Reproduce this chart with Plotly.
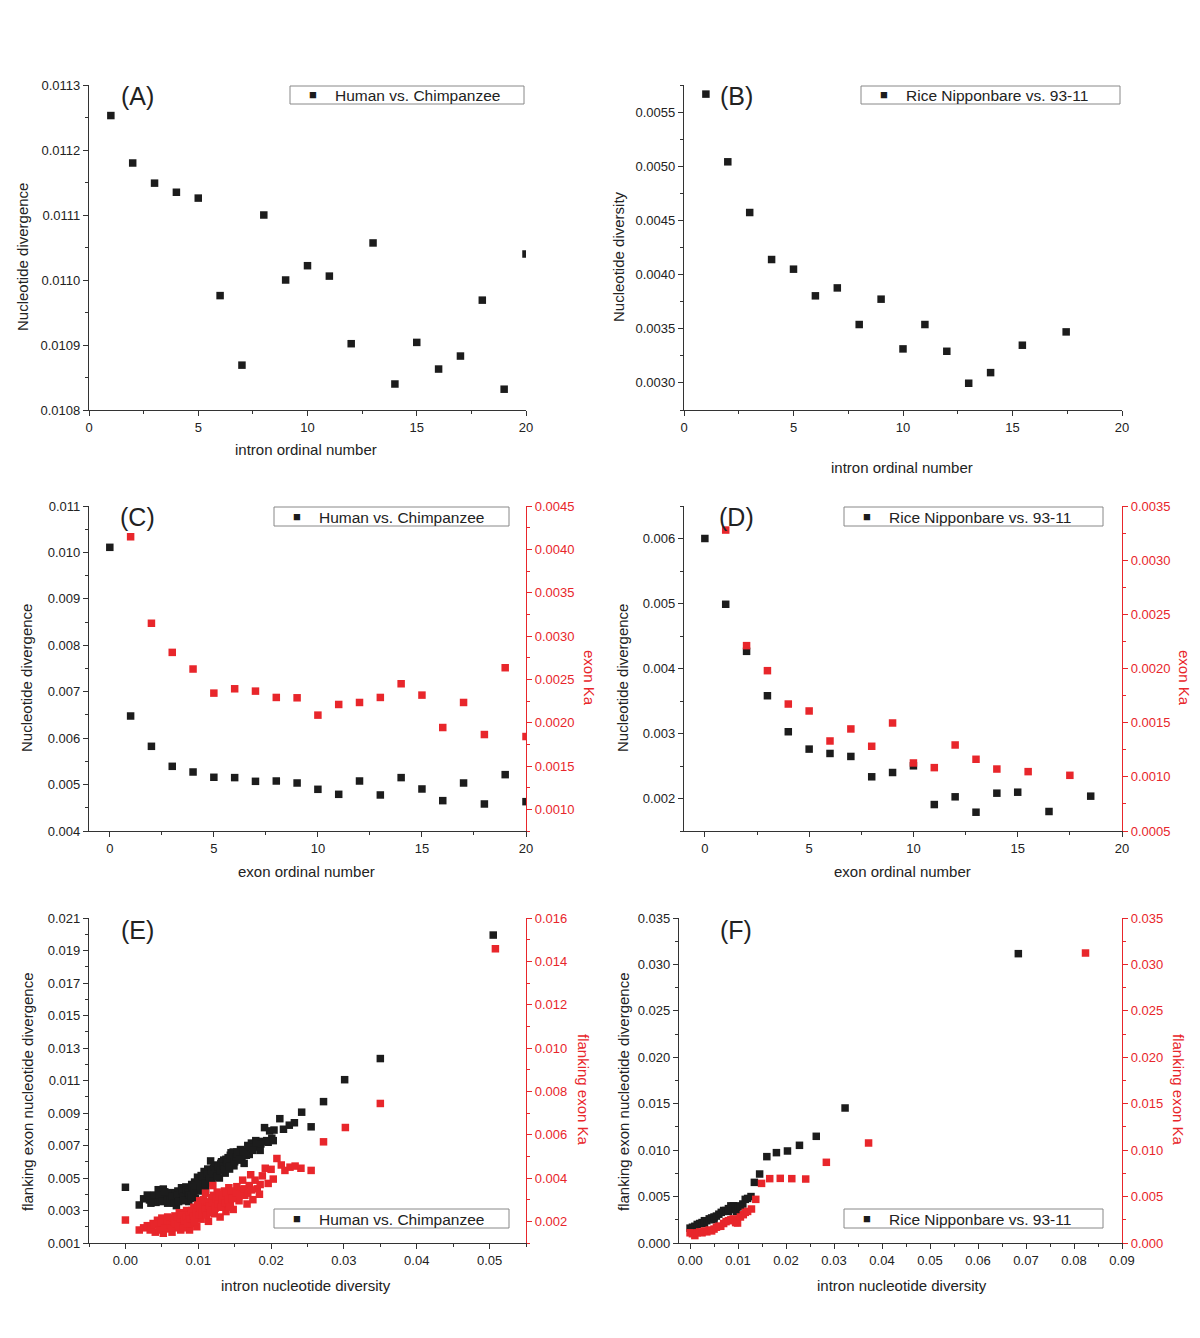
import plotly.graph_objects as go

# page is rendered with an 8px body margin, so the figure is 16px smaller
OFF = 8
W, H = 1200 - 2 * OFF, 1338 - 2 * OFF
FONT = "Liberation Sans, Arial, sans-serif"
BLACK = "#1c1c1c"
RED = "#e8262b"
AX = "#333333"

# ---------------- data ----------------
# (A) Human vs Chimpanzee, intron divergence
a_x = list(range(1, 21))
a_y = [0.011253, 0.011180, 0.011149, 0.011135, 0.011126, 0.010976, 0.010869, 0.011100,
       0.011000, 0.011022, 0.011006, 0.010902, 0.011057, 0.010840, 0.010904, 0.010863,
       0.010883, 0.010969, 0.010832, 0.011040]

# (B) Rice intron diversity
b_x = [1, 2, 3, 4, 5, 6, 7, 8, 9, 10, 11, 12, 13, 14, 15.45, 17.45]
b_y = [0.005666, 0.005041, 0.004573, 0.004139, 0.004050, 0.003804, 0.003877, 0.003539,
       0.003773, 0.003314, 0.003539, 0.003292, 0.002997, 0.003095, 0.003348, 0.003471]

# (C) Human vs Chimpanzee, exon divergence and exon Ka
c_x = list(range(0, 21))
c_div = [0.010110, 0.006477, 0.005824, 0.005393, 0.005271, 0.005157, 0.005150, 0.005070,
         0.005077, 0.005034, 0.004898, 0.004790, 0.005077, 0.004776, 0.005150, 0.004905,
         0.004654, 0.005034, 0.004582, 0.005214, 0.004632]
c_ka_x = list(range(1, 21))
c_ka = [0.004145, 0.003147, 0.002811, 0.002619, 0.002341, 0.002391, 0.002364, 0.002291,
        0.002287, 0.002087, 0.002210, 0.002233, 0.002291, 0.002449, 0.002318, 0.001944,
        0.002233, 0.001863, 0.002634, 0.001840]

# (D) Rice exon divergence and exon Ka
d_x = [0, 1, 2, 3, 4, 5, 6, 7, 8, 9, 10, 11, 12, 13, 14, 15, 16.5, 18.5]
d_div = [0.006000, 0.004988, 0.004264, 0.003581, 0.003027, 0.002760, 0.002693, 0.002647,
         0.002334, 0.002400, 0.002503, 0.001907, 0.002026, 0.001789, 0.002082, 0.002097,
         0.001800, 0.002036]
d_ka_x = [1, 2, 3, 4, 5, 6, 7, 8, 9, 10, 11, 12, 13, 14, 15.5, 17.5]
d_ka = [0.003278, 0.002211, 0.001980, 0.001672, 0.001608, 0.001331, 0.001442, 0.001282,
        0.001497, 0.001128, 0.001085, 0.001294, 0.001162, 0.001072, 0.001048, 0.001014]

# (E) Human vs Chimpanzee: intron diversity vs flanking exon divergence / Ka
e_div_x = [0.0000, 0.0019, 0.0025, 0.0030, 0.0033, 0.0038, 0.0042, 0.0045, 0.0048, 0.0052,
           0.0055, 0.0058, 0.0060, 0.0063, 0.0066, 0.0068, 0.0070, 0.0072, 0.0074, 0.0077,
           0.0079, 0.0081, 0.0083, 0.0085, 0.0087, 0.0089, 0.0091, 0.0093, 0.0095, 0.0096,
           0.0098, 0.0099, 0.0101, 0.0102, 0.0104, 0.0105, 0.0107, 0.0108, 0.0110, 0.0111,
           0.0113, 0.0114, 0.0116, 0.0117, 0.0119, 0.0121, 0.0123, 0.0125, 0.0127, 0.0129,
           0.0131, 0.0133, 0.0135, 0.0137, 0.0139, 0.0141, 0.0143, 0.0145, 0.0147, 0.0149,
           0.0151, 0.0153, 0.0155, 0.0158, 0.0160, 0.0163, 0.0165, 0.0168, 0.0170, 0.0173,
           0.0176, 0.0179, 0.0182, 0.0185, 0.0188, 0.0191, 0.0194, 0.0198, 0.0201, 0.0204,
           0.0212, 0.0217, 0.0225, 0.0232, 0.0242, 0.0255, 0.0272, 0.0301, 0.0350, 0.0505,
           0.0035, 0.0040, 0.0047, 0.0050, 0.0054, 0.0057, 0.0061, 0.0064, 0.0067, 0.0071,
           0.0073, 0.0076, 0.0078, 0.0080, 0.0082, 0.0084, 0.0086, 0.0088, 0.0090, 0.0092,
           0.0094, 0.0097, 0.0100, 0.0103, 0.0106, 0.0109, 0.0112, 0.0115, 0.0118, 0.0120,
           0.0122, 0.0124, 0.0126, 0.0128, 0.0130, 0.0132, 0.0134, 0.0136, 0.0138, 0.0140,
           0.0142, 0.0144, 0.0146, 0.0148, 0.0150, 0.0152, 0.0154, 0.0157, 0.0162, 0.0166,
           0.0171, 0.0175, 0.0180, 0.0186, 0.0196, 0.0203]
e_div_y = [0.00443, 0.00334, 0.00372, 0.00395, 0.00365, 0.00380, 0.00350, 0.00428, 0.00365, 0.00432,
           0.00385, 0.00345, 0.00395, 0.00410, 0.00375, 0.00405, 0.00330, 0.00420, 0.00385, 0.00440,
           0.00360, 0.00415, 0.00445, 0.00395, 0.00355, 0.00430, 0.00460, 0.00400, 0.00475, 0.00375,
           0.00440, 0.00505, 0.00420, 0.00470, 0.00515, 0.00450, 0.00490, 0.00540, 0.00430, 0.00500,
           0.00555, 0.00470, 0.00530, 0.00605, 0.00495, 0.00560, 0.00520, 0.00580, 0.00545, 0.00500,
           0.00590, 0.00560, 0.00610, 0.00530, 0.00580, 0.00625, 0.00555, 0.00655, 0.00600, 0.00575,
           0.00640, 0.00660, 0.00610, 0.00675, 0.00630, 0.00590, 0.00665, 0.00700, 0.00645, 0.00715,
           0.00690, 0.00730, 0.00700, 0.00670, 0.00725, 0.00810, 0.00730, 0.00790, 0.00745, 0.00795,
           0.00865, 0.00800, 0.00825, 0.00840, 0.00905, 0.00815, 0.00970, 0.01105, 0.01235, 0.01995,
           0.00345, 0.00395, 0.00395, 0.00355, 0.00415, 0.00365, 0.00360, 0.00385, 0.00345, 0.00395,
           0.00355, 0.00405, 0.00420, 0.00385, 0.00365, 0.00425, 0.00410, 0.00395, 0.00380, 0.00445,
           0.00420, 0.00455, 0.00480, 0.00440, 0.00510, 0.00465, 0.00525, 0.00500, 0.00545, 0.00525,
           0.00575, 0.00545, 0.00510, 0.00570, 0.00545, 0.00600, 0.00575, 0.00555, 0.00615, 0.00595,
           0.00570, 0.00640, 0.00620, 0.00660, 0.00600, 0.00630, 0.00650, 0.00615, 0.00660, 0.00640,
           0.00690, 0.00670, 0.00715, 0.00710, 0.00720, 0.00730]
e_ka_x = [0.0000, 0.0019, 0.0025, 0.0030, 0.0034, 0.0038, 0.0041, 0.0044, 0.0047, 0.0050,
          0.0052, 0.0055, 0.0058, 0.0060, 0.0062, 0.0064, 0.0066, 0.0068, 0.0070, 0.0072,
          0.0074, 0.0076, 0.0078, 0.0080, 0.0082, 0.0084, 0.0086, 0.0088, 0.0090, 0.0092,
          0.0094, 0.0096, 0.0098, 0.0100, 0.0102, 0.0104, 0.0106, 0.0108, 0.0110, 0.0112,
          0.0114, 0.0116, 0.0118, 0.0120, 0.0122, 0.0124, 0.0126, 0.0128, 0.0130, 0.0132,
          0.0134, 0.0136, 0.0138, 0.0140, 0.0142, 0.0144, 0.0146, 0.0148, 0.0150, 0.0153,
          0.0156, 0.0159, 0.0161, 0.0164, 0.0167, 0.0170, 0.0172, 0.0175, 0.0178, 0.0181,
          0.0184, 0.0188, 0.0192, 0.0196, 0.0200, 0.0203, 0.0208, 0.0214, 0.0219, 0.0226,
          0.0233, 0.0241, 0.0255, 0.0272, 0.0302, 0.0350, 0.0508,
          0.0036, 0.0040, 0.0046, 0.0049, 0.0054, 0.0057, 0.0061, 0.0063, 0.0065, 0.0067,
          0.0069, 0.0071, 0.0073, 0.0075, 0.0077, 0.0079, 0.0081, 0.0083, 0.0085, 0.0087,
          0.0089, 0.0091, 0.0093, 0.0095, 0.0097, 0.0099, 0.0101, 0.0103, 0.0105, 0.0107,
          0.0109, 0.0111, 0.0113, 0.0115, 0.0117, 0.0119, 0.0121, 0.0123, 0.0125, 0.0127,
          0.0129, 0.0131, 0.0133, 0.0135, 0.0137, 0.0139, 0.0141, 0.0143, 0.0145, 0.0147,
          0.0152, 0.0157, 0.0163, 0.0168, 0.0173, 0.0185]
e_ka_y = [0.00206, 0.00160, 0.00170, 0.00180, 0.00160, 0.00190, 0.00150, 0.00205, 0.00175, 0.00215,
          0.00145, 0.00190, 0.00220, 0.00165, 0.00200, 0.00150, 0.00185, 0.00225, 0.00170, 0.00205,
          0.00240, 0.00160, 0.00195, 0.00225, 0.00175, 0.00250, 0.00205, 0.00160, 0.00235, 0.00190,
          0.00265, 0.00215, 0.00175, 0.00250, 0.00295, 0.00210, 0.00270, 0.00235, 0.00330, 0.00280,
          0.00200, 0.00255, 0.00310, 0.00365, 0.00235, 0.00290, 0.00335, 0.00265, 0.00220, 0.00310,
          0.00275, 0.00340, 0.00245, 0.00300, 0.00355, 0.00280, 0.00325, 0.00255, 0.00310, 0.00360,
          0.00295, 0.00345, 0.00390, 0.00320, 0.00280, 0.00365, 0.00415, 0.00300, 0.00390, 0.00350,
          0.00325, 0.00410, 0.00445, 0.00375, 0.00440, 0.00395, 0.00490, 0.00460, 0.00435, 0.00450,
          0.00455, 0.00445, 0.00435, 0.00567, 0.00633, 0.00744, 0.01458,
          0.00175, 0.00185, 0.00160, 0.00195, 0.00170, 0.00205, 0.00185, 0.00170, 0.00215, 0.00200,
          0.00190, 0.00220, 0.00180, 0.00210, 0.00230, 0.00170, 0.00205, 0.00220, 0.00190, 0.00230,
          0.00210, 0.00250, 0.00225, 0.00200, 0.00240, 0.00275, 0.00230, 0.00260, 0.00240, 0.00300,
          0.00255, 0.00230, 0.00290, 0.00270, 0.00240, 0.00285, 0.00320, 0.00260, 0.00305, 0.00280,
          0.00325, 0.00265, 0.00300, 0.00320, 0.00285, 0.00330, 0.00300, 0.00265, 0.00340, 0.00305,
          0.00330, 0.00325, 0.00350, 0.00330, 0.00345, 0.00370]

# (F) Rice: intron diversity vs flanking exon divergence / Ka
f_div_x = [0.0000, 0.0005, 0.0010, 0.0015, 0.0020, 0.0025, 0.0030, 0.0030, 0.0035, 0.0040,
           0.0045, 0.0050, 0.0050, 0.0055, 0.0060, 0.0065, 0.0070, 0.0075, 0.0080, 0.0080,
           0.0085, 0.0090, 0.0095, 0.0097, 0.0100, 0.0105, 0.0110, 0.0115, 0.0120, 0.0127,
           0.0134, 0.0145, 0.0160, 0.0180, 0.0203, 0.0228, 0.0263, 0.0323, 0.0684]
f_div_y = [0.0016, 0.0017, 0.0018, 0.0020, 0.0021, 0.0022, 0.0024, 0.0021, 0.0024, 0.0026,
           0.0027, 0.0028, 0.0025, 0.0029, 0.0031, 0.0033, 0.0035, 0.0035, 0.0037, 0.0034,
           0.0040, 0.0040, 0.0036, 0.0034, 0.0040, 0.0039, 0.0042, 0.0047, 0.0048, 0.0050,
           0.00653, 0.00743, 0.0093, 0.00973, 0.00991, 0.01052, 0.01149, 0.01454, 0.03116]
f_ka_x = [0.0000, 0.0005, 0.0010, 0.0015, 0.0020, 0.0025, 0.0030, 0.0035, 0.0040, 0.0045,
          0.0050, 0.0055, 0.0060, 0.0064, 0.0070, 0.0075, 0.0080, 0.0085, 0.0090, 0.0095,
          0.0099, 0.0105, 0.0111, 0.0115, 0.0120, 0.0128, 0.0137, 0.0149, 0.0166, 0.0188,
          0.0212, 0.0241, 0.0284, 0.0372, 0.0824]
f_ka_y = [0.0011, 0.0010, 0.0008, 0.0011, 0.0012, 0.0011, 0.0013, 0.0012, 0.0014, 0.0013,
          0.0015, 0.0017, 0.0018, 0.0018, 0.0021, 0.0023, 0.0024, 0.0025, 0.0026, 0.0022,
          0.00215, 0.0028, 0.00305, 0.0033, 0.0034, 0.00366, 0.0047, 0.00642, 0.00693, 0.00696,
          0.00693, 0.00689, 0.00869, 0.01077, 0.03123]

HUMAN = "Human vs. Chimpanzee"
RICE = "Rice Nipponbare vs. 93-11"

# ---------------- layout helpers (page pixel -> paper) ----------------
def px_x(px):
    return (px - OFF) / W


def px_y(py):
    return 1 - (py - OFF) / H


COL_L = [px_x(89), px_x(526)]
COL_R = [px_x(684), px_x(1122)]
COL_RF = [px_x(679), px_x(1122)]
ROW1 = [px_y(410), px_y(85)]
ROW2 = [px_y(831), px_y(506)]
ROW3 = [px_y(1243), px_y(918)]

TICKSIZE = 13


def xax(domain, anchor, rng, dtick, minor, fmt=None, tick0=0):
    d = dict(domain=domain, anchor=anchor, range=rng, dtick=dtick, tick0=tick0,
             automargin=False,
             showline=True, linecolor=AX, linewidth=1.3, ticks="outside", ticklen=5,
             tickwidth=1.2, tickcolor=AX, showgrid=False, zeroline=False,
             tickfont=dict(family=FONT, size=TICKSIZE, color="#222"),
             minor=dict(dtick=minor, tick0=tick0, ticks="outside", ticklen=3,
                        tickwidth=1, tickcolor=AX, showgrid=False))
    if fmt:
        d["tickformat"] = fmt
    return d


def yax(domain, anchor, rng, dtick, minor, fmt, tick0=0, color=AX, tcolor="#222", side="left", overlaying=None):
    d = dict(domain=domain, anchor=anchor, range=rng, dtick=dtick, tick0=tick0, side=side,
             automargin=False,
             tickformat=fmt, showline=True, linecolor=color, linewidth=1.3, ticks="outside",
             ticklen=5, tickwidth=1.2, tickcolor=color, showgrid=False, zeroline=False,
             tickfont=dict(family=FONT, size=TICKSIZE, color=tcolor),
             minor=dict(dtick=minor, tick0=tick0, ticks="outside", ticklen=3,
                        tickwidth=1, tickcolor=color, showgrid=False))
    if overlaying:
        d["overlaying"] = overlaying
    return d


fig = go.Figure()

mk_black = dict(symbol="square", size=7.5, color=BLACK)
mk_red = dict(symbol="square", size=7.5, color=RED)

# A
fig.add_trace(go.Scatter(x=a_x, y=a_y, mode="markers", marker=mk_black, name=HUMAN,
                         xaxis="x", yaxis="y", showlegend=False))
# B
fig.add_trace(go.Scatter(x=b_x, y=b_y, mode="markers", marker=mk_black, name=RICE,
                         xaxis="x2", yaxis="y2", showlegend=False))
# C
fig.add_trace(go.Scatter(x=c_x, y=c_div, mode="markers", marker=mk_black, name=HUMAN,
                         xaxis="x3", yaxis="y3", showlegend=False))
fig.add_trace(go.Scatter(x=c_ka_x, y=c_ka, mode="markers", marker=mk_red, name="exon Ka",
                         xaxis="x3", yaxis="y4", showlegend=False))
# D
fig.add_trace(go.Scatter(x=d_x, y=d_div, mode="markers", marker=mk_black, name=RICE,
                         xaxis="x4", yaxis="y5", showlegend=False))
fig.add_trace(go.Scatter(x=d_ka_x, y=d_ka, mode="markers", marker=mk_red, name="exon Ka",
                         xaxis="x4", yaxis="y6", showlegend=False))
# E
fig.add_trace(go.Scatter(x=e_div_x, y=e_div_y, mode="markers", marker=mk_black, name=HUMAN,
                         xaxis="x5", yaxis="y7", showlegend=False))
fig.add_trace(go.Scatter(x=e_ka_x, y=e_ka_y, mode="markers", marker=mk_red, name="flanking exon Ka",
                         xaxis="x5", yaxis="y8", showlegend=False))
# F
fig.add_trace(go.Scatter(x=f_div_x, y=f_div_y, mode="markers", marker=mk_black, name=RICE,
                         xaxis="x6", yaxis="y9", showlegend=False))
fig.add_trace(go.Scatter(x=f_ka_x, y=f_ka_y, mode="markers", marker=mk_red, name="flanking exon Ka",
                         xaxis="x6", yaxis="y10", showlegend=False))

layout = dict(
    template="none",
    width=W, height=H, margin=dict(l=0, r=0, t=0, b=0, pad=0, autoexpand=False),
    paper_bgcolor="white", plot_bgcolor="white", showlegend=False,
    font=dict(family=FONT, color="#222"),
    xaxis=xax(COL_L, "y", [0, 20], 5, 2.5),
    yaxis=yax(ROW1, "x", [0.0108, 0.0113], 0.0001, 0.00005, ".4f", tick0=0.0108),
    xaxis2=xax(COL_R, "y2", [0, 20], 5, 2.5),
    yaxis2=yax(ROW1, "x2", [0.00275, 0.00575], 0.0005, 0.00025, ".4f"),
    xaxis3=xax(COL_L, "y3", [-1, 20], 5, 2.5),
    yaxis3=yax(ROW2, "x3", [0.004, 0.011], 0.001, 0.0005, ".3f"),
    yaxis4=yax(ROW2, "x3", [0.00075, 0.0045], 0.0005, 0.00025, ".4f", color=RED, tcolor=RED,
               side="right", overlaying="y3"),
    xaxis4=xax(COL_R, "y5", [-1, 20], 5, 2.5),
    yaxis5=yax(ROW2, "x4", [0.0015, 0.0065], 0.001, 0.0005, ".3f"),
    yaxis6=yax(ROW2, "x4", [0.0005, 0.0035], 0.0005, 0.00025, ".4f", color=RED, tcolor=RED,
               side="right", overlaying="y5"),
    xaxis5=xax(COL_L, "y7", [-0.005, 0.055], 0.01, 0.005, ".2f"),
    yaxis7=yax(ROW3, "x5", [0.001, 0.021], 0.002, 0.001, ".3f", tick0=0.001),
    yaxis8=yax(ROW3, "x5", [0.001, 0.016], 0.002, 0.001, ".3f", color=RED, tcolor=RED,
               side="right", overlaying="y7"),
    xaxis6=xax(COL_RF, "y9", [-0.0023, 0.09], 0.01, 0.005, ".2f"),
    yaxis9=yax(ROW3, "x6", [0, 0.035], 0.005, 0.0025, ".3f"),
    yaxis10=yax(ROW3, "x6", [0, 0.035], 0.005, 0.0025, ".3f", color=RED, tcolor=RED,
                side="right", overlaying="y9"),
)
fig.update_layout(**layout)

annotations = []
shapes = []


def text(px, py, s, size=15, color="#222", angle=0, xanchor="center"):
    annotations.append(dict(x=px_x(px), y=px_y(py), xref="paper", yref="paper", text=s,
                            showarrow=False, textangle=angle, xanchor=xanchor, yanchor="middle",
                            font=dict(family=FONT, size=size, color=color)))


# panel labels
for lab, (px, py) in {"(A)": (137, 96), "(B)": (736, 96), "(C)": (137, 517),
                      "(D)": (736, 517), "(E)": (137, 930), "(F)": (736, 930)}.items():
    text(px, py, lab, size=25)

# axis titles
text(22, 257, "Nucleotide divergence", angle=-90)
text(306, 450, "intron ordinal number")
text(618, 257, "Nucleotide diversity", angle=-90)
text(902, 467, "intron ordinal number")
text(27, 678, "Nucleotide divergence", angle=-90)
text(589, 678, "exon Ka", color=RED, angle=90)
text(306, 872, "exon ordinal number")
text(623, 678, "Nucleotide divergence", angle=-90)
text(1184, 678, "exon Ka", color=RED, angle=90)
text(902, 872, "exon ordinal number")
text(27, 1092, "flanking exon nucleotide divergence", angle=-90)
text(584, 1090, "flanking exon Ka", color=RED, angle=90)
text(306, 1285, "intron nucleotide diversity")
text(623, 1092, "flanking exon nucleotide divergence", angle=-90)
text(1179, 1090, "flanking exon Ka", color=RED, angle=90)
text(902, 1285, "intron nucleotide diversity")


# legend boxes
def legend_box(x0, y0, x1, y1, label):
    shapes.append(dict(type="rect", xref="paper", yref="paper",
                       x0=px_x(x0), x1=px_x(x1), y0=px_y(y1), y1=px_y(y0),
                       line=dict(color="#888", width=1), fillcolor="white", layer="above"))
    ym = (y0 + y1) / 2
    text(x0 + 23, ym, "■", size=13, color=BLACK)
    text(x0 + 43, ym + 0.5, label, size=15.5, xanchor="left")


legend_box(290, 86, 524, 104, HUMAN)
legend_box(861, 86, 1120, 104, RICE)
legend_box(274, 507, 509, 526, HUMAN)
legend_box(844, 507, 1103, 526, RICE)
legend_box(274, 1209, 509, 1228, HUMAN)
legend_box(844, 1209, 1103, 1228, RICE)

fig.update_layout(annotations=annotations, shapes=shapes)
fig.write_html("out.html")
